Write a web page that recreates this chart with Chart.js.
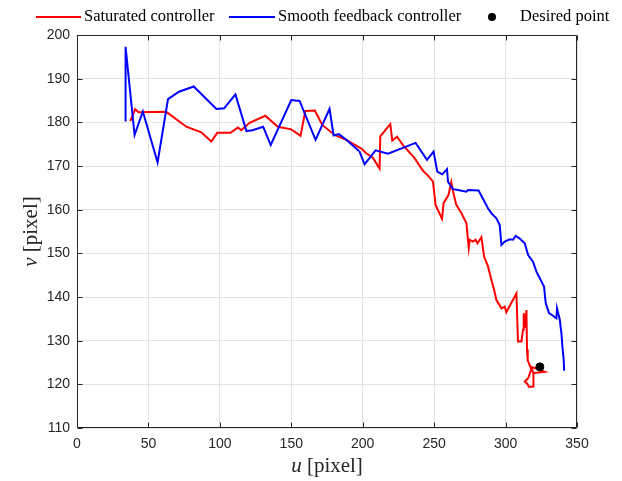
<!DOCTYPE html>
<html><head><meta charset="utf-8">
<script src="https://cdn.jsdelivr.net/npm/chart.js@4/dist/chart.umd.min.js"></script>
<style>html,body{margin:0;padding:0;background:#fff;overflow:hidden}</style>
</head><body>
<canvas id="c" width="622" height="481"></canvas>
<script>
// ---- data ----
const uSaturated = [37.3,40.7,43.1,62.5,76.5,87,94,98.2,107.5,112.6,115,120.8,131.8,140.6,150,156.5,159.8,166.5,171.7,180.3,188.5,199,202.5,207.1,211.8,212.3,219.3,220.7,224,228.2,236.3,242.2,245.7,249.2,251,255.5,256.6,260.1,262,263,265.5,269.1,272.6,274.2,274.9,277.2,278.9,280.3,283.1,285,287.7,290.1,292,293.6,297.1,299.4,300.5,307.6,308.7,311.1,312.2,312.7,313.5,314.6,315,315.5,318,316,313.5,315,316.5,319.2,319.5,318,327.4,320];
const vSaturated = [180.3,183.0,182.3,182.4,179.0,177.7,175.6,177.6,177.6,178.8,178.2,179.9,181.5,179.0,178.4,176.9,182.6,182.7,179.4,177.1,176,174.0,172.9,171.9,169.4,176.8,179.6,175.8,176.7,174.8,171.8,168.9,167.8,166.4,161.1,157.9,161.5,163.4,166.3,164.5,161.1,159.2,156.9,151.2,153.1,152.7,153.1,152.3,153.7,149.2,147.0,143.9,141.6,139.3,137.4,137.8,136.5,140.8,129.8,129.8,132.5,136.3,133,137.0,128,125.5,123.5,121.5,120.6,120.2,119.4,119.5,122.5,124,122.9,122.6];

const uSmooth = [34,34,40.3,46.1,56.4,63.7,71.4,81.7,97.6,103,110.9,118.6,122.8,130.3,135.6,150,155.8,167,176.8,179.6,183.3,188.5,197.8,201.3,209,217.7,237,245,249.6,252.2,255.7,259,259.7,263.2,266.7,272.5,273.7,281.1,285.3,287.7,290,293.6,295.9,297.1,299.4,302.9,305.2,307.1,309.9,313.4,315.8,319.2,321.6,324.6,326.9,328.1,330.4,333.2,335.6,336,337.9,339.1,339.8,340.7,341];
const vSmooth = [180.2,197.3,177.1,182.5,170.8,185.3,187.0,188.2,183.05,183.2,186.4,178.0,178.2,179.0,174.8,185.1,184.9,176,183.1,177,177.3,176,173.3,170.4,173.6,172.8,175.3,171.4,173.3,168.7,168.1,169.3,166.4,164.7,164.5,164.1,164.5,164.4,161.8,160.3,159.2,158.0,156.5,151.9,152.7,153.2,153.1,154.0,153.4,152.3,149.6,148.1,145.8,143.9,142.4,138.6,136.3,135.7,135.1,137.4,134.9,131.7,128.6,125.6,123.1];

const uDesired = [324];
const vDesired = [124];

const xTickValues = [0,50,100,150,200,250,300,350];
const yTickValues = [110,120,130,140,150,160,170,180,190,200];
const seriesNames = ['Saturated controller','Smooth feedback controller','Desired point'];
const xTitle = ['u',' [pixel]'];
const yTitle = ['v',' [pixel]'];

const toPts = (us, vs) => us.map((u, i) => ({x: u, y: vs[i]}));

const AXIS = '#262626';
const SERIF = '"Liberation Serif","DejaVu Serif",serif';

const decor = {
  id: 'decor',
  afterDatasetsDraw(chart) {
    const ctx = chart.ctx, a = chart.chartArea;
    const xs = chart.scales.x, ys = chart.scales.y;
    ctx.save();
    ctx.strokeStyle = AXIS;
    ctx.lineWidth = 1;
    const L = Math.round(a.left) + 0.5, R = Math.round(a.right) - 0.5;
    const T = Math.round(a.top) + 0.5, B = Math.round(a.bottom) - 0.5;
    ctx.beginPath();
    ctx.rect(L, T, R - L, B - T);
    ctx.stroke();
    const tl = 5;
    ctx.beginPath();
    xTickValues.forEach(v => {
      const px = Math.round(xs.getPixelForValue(v)) + 0.5;
      ctx.moveTo(px, B); ctx.lineTo(px, B - tl);
      ctx.moveTo(px, T); ctx.lineTo(px, T + tl);
    });
    yTickValues.forEach(v => {
      const py = Math.round(ys.getPixelForValue(v)) + 0.5;
      ctx.moveTo(L, py); ctx.lineTo(L + tl, py);
      ctx.moveTo(R, py); ctx.lineTo(R - tl, py);
    });
    ctx.stroke();
    ctx.restore();
  },
  afterDraw(chart) {
    const ctx = chart.ctx, a = chart.chartArea;
    ctx.save();
    ctx.fillStyle = AXIS;
    ctx.textBaseline = 'middle';
    // axis titles
    const drawTitle = (parts, size) => {
      ctx.font = 'italic ' + size + 'px ' + SERIF;
      const w1 = ctx.measureText(parts[0]).width;
      ctx.font = size + 'px ' + SERIF;
      const w2 = ctx.measureText(parts[1]).width;
      const x0 = -(w1 + w2) / 2;
      ctx.font = 'italic ' + size + 'px ' + SERIF;
      ctx.textAlign = 'left';
      ctx.fillText(parts[0], x0, 0);
      ctx.font = size + 'px ' + SERIF;
      ctx.fillText(parts[1], x0 + w1, 0);
    };
    ctx.save();
    ctx.translate((a.left + a.right) / 2, 466);
    drawTitle(xTitle, 21);
    ctx.restore();
    ctx.save();
    ctx.translate(31, (a.top + a.bottom) / 2);
    ctx.rotate(-Math.PI / 2);
    drawTitle(yTitle, 21);
    ctx.restore();

    // legend
    const ly = 17;
    ctx.font = '16.5px ' + SERIF;
    ctx.textAlign = 'left';
    ctx.fillStyle = '#000';
    ctx.lineWidth = 2;
    const ds = chart.data.datasets;
    // Saturated
    ctx.strokeStyle = ds[0].borderColor;
    ctx.beginPath(); ctx.moveTo(36, ly); ctx.lineTo(81, ly); ctx.stroke();
    ctx.fillText(seriesNames[0], 84, ly);
    // Smooth
    ctx.strokeStyle = ds[1].borderColor;
    ctx.beginPath(); ctx.moveTo(229, ly); ctx.lineTo(275, ly); ctx.stroke();
    ctx.fillText(seriesNames[1], 278, ly);
    // Desired
    ctx.fillStyle = '#000';
    ctx.beginPath(); ctx.arc(492, ly, 4, 0, Math.PI * 2); ctx.fill();
    ctx.fillText(seriesNames[2], 520, ly);
    ctx.restore();
  }
};

new Chart(document.getElementById('c'), {
  type: 'scatter',
  data: {
    datasets: [
      {label: seriesNames[0], data: toPts(uSaturated, vSaturated), showLine: true,
       borderColor: '#ff0000', backgroundColor: '#ff0000', borderWidth: 2, pointRadius: 0, tension: 0, order: 3},
      {label: seriesNames[1], data: toPts(uSmooth, vSmooth), showLine: true,
       borderColor: '#0000ff', backgroundColor: '#0000ff', borderWidth: 2, pointRadius: 0, tension: 0, order: 2},
      {label: seriesNames[2], data: toPts(uDesired, vDesired), showLine: false,
       borderColor: '#000', backgroundColor: '#000', pointRadius: 4, pointStyle: 'circle', order: 1}
    ]
  },
  options: {
    responsive: false,
    animation: false,
    devicePixelRatio: 1,
    layout: {padding: {left: 0, right: 45, top: 35, bottom: 0}},
    plugins: {legend: {display: false}, tooltip: {enabled: false}},
    scales: {
      x: {
        type: 'linear', min: 0, max: 350,
        afterBuildTicks: s => { s.ticks = xTickValues.map(v => ({value: v})); },
        afterFit: s => { s.height = 53; },
        ticks: {padding: 8, color: AXIS, font: {family: '"Liberation Sans",Arial,sans-serif', size: 14}},
        grid: {color: '#e3e3e3', lineWidth: 1, drawTicks: false},
        border: {display: false}
      },
      y: {
        type: 'linear', min: 110, max: 200,
        afterBuildTicks: s => { s.ticks = yTickValues.map(v => ({value: v})); },
        afterFit: s => { s.width = 77; },
        ticks: {padding: 7, color: AXIS, font: {family: '"Liberation Sans",Arial,sans-serif', size: 14}},
        grid: {color: '#e3e3e3', lineWidth: 1, drawTicks: false},
        border: {display: false}
      }
    }
  },
  plugins: [decor]
});
</script>
</body></html>
